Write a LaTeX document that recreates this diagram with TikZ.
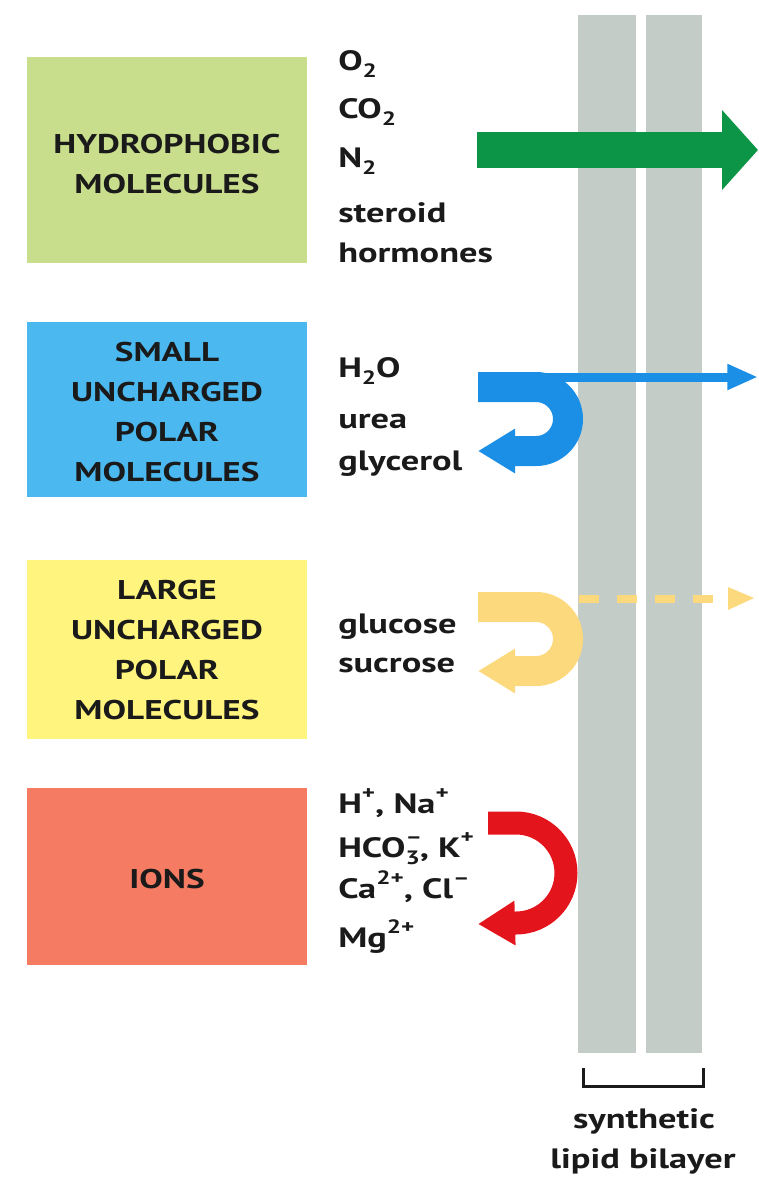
\documentclass[tikz,border=0pt]{standalone}
\usepackage{fontspec}
\setmainfont{PT Sans}[FakeStretch=1.3]
\usetikzlibrary{arrows.meta}
\definecolor{boxgreen}{HTML}{C9DE8C}
\definecolor{boxblue}{HTML}{4BB9F0}
\definecolor{boxyellow}{HTML}{FFF47E}
\definecolor{boxred}{HTML}{F57C62}
\definecolor{bargray}{HTML}{C3CCC6}
\definecolor{arrgreen}{HTML}{0C9447}
\definecolor{arrblue}{HTML}{1B8EE6}
\definecolor{arryellow}{HTML}{FCD97C}
\definecolor{arrred}{HTML}{E3141C}
\definecolor{ink}{HTML}{1A1A1A}
\newcommand\mysub[1]{\raisebox{-0.28em}{\fontsize{14.5}{14.5}\selectfont #1}}
\newcommand\mysup[1]{\raisebox{0.5em}{\fontsize{14.5}{14.5}\selectfont #1}}
\newcommand\mysubsup[2]{\makebox[0pt][l]{\mysup{#2}}\mysub{#1}}
\tikzset{
  cattext/.style={align=center,text=ink,font=\bfseries\fontsize{20.3}{30}\selectfont,inner sep=0pt},
  moltext/.style={anchor=base west,text=ink,font=\bfseries\fontsize{21}{24}\selectfont,inner sep=0pt},
  captext/.style={anchor=base,text=ink,font=\bfseries\fontsize{21}{24}\selectfont,inner sep=0pt},
  layer/.style={fill=bargray,draw=none},
}
\begin{document}
\begin{tikzpicture}[x=0.75pt,y=-0.75pt]
\useasboundingbox (0,0) rectangle (758,1200);
% bilayer
\fill[layer] (578,15) rectangle (636,1053);
\fill[layer] (646,15) rectangle (702,1053);
\draw[ink,line width=2.25pt] (583,1068) -- (583,1086) -- (703,1086) -- (703,1068);
\node[captext] (syn) at (644,1128) {synthetic};
\node[captext] (lip) at (643,1168) {lipid bilayer};
% category boxes
\fill[boxgreen] (27,57) rectangle (307,263);
\fill[boxblue] (27,322) rectangle (307,497);
\fill[boxyellow] (27,560) rectangle (307,739);
\fill[boxred] (27,788) rectangle (307,965);
\node[cattext] (hyd) at (167,164) {HYDROPHOBIC\\MOLECULES};
\node[cattext] (sm) at (167,412) {SMALL\\UNCHARGED\\POLAR\\MOLECULES};
\node[cattext] (lg) at (167,650) {LARGE\\UNCHARGED\\POLAR\\MOLECULES};
\node[cattext] (ion) at (167,879) {IONS};
% molecule lists
\node[moltext] (o2) at (338,70) {O\mysub{2}};
\node[moltext] (co2) at (338,118) {CO\mysub{2}};
\node[moltext] (n2) at (338,167) {N\mysub{2}};
\node[moltext] (ster) at (338,222) {steroid};
\node[moltext] (horm) at (338,262) {hormones};
\node[moltext] (h2o) at (338,377) {H\mysub{2}O};
\node[moltext] (urea) at (338,428) {urea};
\node[moltext] (glyc) at (338,470) {glycerol};
\node[moltext] (gluc) at (338,633) {glucose};
\node[moltext] (sucr) at (338,672) {sucrose};
\node[moltext] (i1) at (338,813) {H\mysup{+}, Na\mysup{+}};
\node[moltext] (i2) at (338,857) {HCO\mysubsup{3}{–}, K\mysup{+}};
\node[moltext] (i3) at (338,898) {Ca\mysup{2+}, Cl\mysup{–}};
\node[moltext] (i4) at (338,947) {Mg\mysup{2+}};
% green arrow
\draw[arrgreen,line width=27pt,-{Triangle[length=27pt,width=58.5pt]}] (477,150) -- (758,150);
% blue
\draw[arrblue,line width=6.75pt,-{Triangle[length=23pt,width=18pt]}] (500,377) -- (758,377);
\draw[arrblue,line width=22.5pt,-{Triangle[length=27.75pt,width=31.5pt]}] (478,387) -- (536,387) arc[start angle=-90,end angle=90,radius=32] -- (478,451);
% yellow
\draw[arryellow,line width=6pt,dash pattern=on 15pt off 13.5pt] (579,599) -- (713,599);
\fill[arryellow] (728,587) -- (754,598) -- (728,610) -- cycle;
\draw[arryellow,line width=22.5pt,-{Triangle[length=27.75pt,width=31.5pt]}] (478,607) -- (536,607) arc[start angle=-90,end angle=90,radius=32] -- (478,671);
% red
\draw[arrred,line width=17.25pt,-{Triangle[length=27.75pt,width=31.5pt]}] (488,823) -- (516,823) arc[start angle=-90,end angle=90,radius=50] -- (478,924);
\end{tikzpicture}
\end{document}
